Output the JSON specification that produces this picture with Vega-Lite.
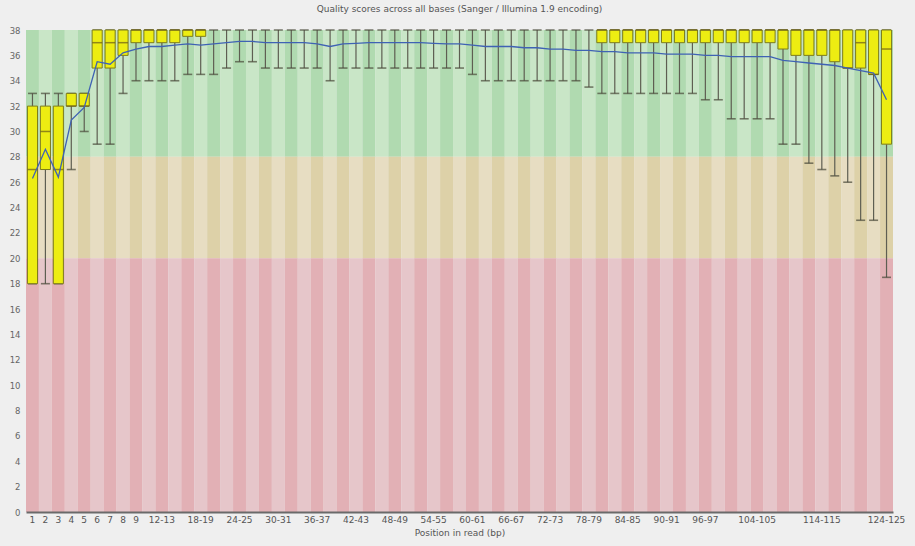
{
  "$schema": "https://vega.github.io/schema/vega-lite/v6.json",
  "width": 867,
  "height": 482,
  "autosize": {"type": "none"},
  "padding": {"left": 26, "top": 30, "right": 22, "bottom": 34},
  "background": "#efefef",
  "config": {
    "view": {"stroke": null},
    "font": "DejaVu Sans",
    "axisY": {"labelOverlap": false, "labelFontSize": 8.5, "labelColor": "#666666", "labelPadding": 6, "ticks": false, "domain": false, "grid": false}
  },
  "title": {
    "text": "Quality scores across all bases (Sanger / Illumina 1.9 encoding)",
    "fontSize": 9,
    "fontWeight": "normal",
    "color": "#555555",
    "offset": 12,
    "anchor": "middle"
  },
  "data": {
    "values": [
      {"idx": 1, "pos": "1", "lo": 18, "q1": 18, "med": 27, "q3": 32, "hi": 33, "mean": 26.3},
      {"idx": 2, "pos": "2", "lo": 18, "q1": 27, "med": 30, "q3": 32, "hi": 33, "mean": 28.6},
      {"idx": 3, "pos": "3", "lo": 18, "q1": 18, "med": 27, "q3": 32, "hi": 33, "mean": 26.4},
      {"idx": 4, "pos": "4", "lo": 27, "q1": 32, "med": 32, "q3": 33, "hi": 33, "mean": 30.9},
      {"idx": 5, "pos": "5", "lo": 30, "q1": 32, "med": 32, "q3": 33, "hi": 33, "mean": 31.9},
      {"idx": 6, "pos": "6", "lo": 29, "q1": 35, "med": 37, "q3": 38, "hi": 38, "mean": 35.5},
      {"idx": 7, "pos": "7", "lo": 29, "q1": 35, "med": 37, "q3": 38, "hi": 38, "mean": 35.3},
      {"idx": 8, "pos": "8", "lo": 33, "q1": 36, "med": 37, "q3": 38, "hi": 38, "mean": 36.2},
      {"idx": 9, "pos": "9", "lo": 34, "q1": 37, "med": 38, "q3": 38, "hi": 38, "mean": 36.5},
      {"idx": 10, "pos": "10-11", "lo": 34, "q1": 37, "med": 38, "q3": 38, "hi": 38, "mean": 36.7},
      {"idx": 11, "pos": "12-13", "lo": 34, "q1": 37, "med": 38, "q3": 38, "hi": 38, "mean": 36.7},
      {"idx": 12, "pos": "14-15", "lo": 34, "q1": 37, "med": 38, "q3": 38, "hi": 38, "mean": 36.8},
      {"idx": 13, "pos": "16-17", "lo": 34.5, "q1": 37.5, "med": 38, "q3": 38, "hi": 38, "mean": 36.9},
      {"idx": 14, "pos": "18-19", "lo": 34.5, "q1": 37.5, "med": 38, "q3": 38, "hi": 38, "mean": 36.8},
      {"idx": 15, "pos": "20-21", "lo": 34.5, "q1": 38, "med": 38, "q3": 38, "hi": 38, "mean": 36.9},
      {"idx": 16, "pos": "22-23", "lo": 35, "q1": 38, "med": 38, "q3": 38, "hi": 38, "mean": 37.0},
      {"idx": 17, "pos": "24-25", "lo": 35.5, "q1": 38, "med": 38, "q3": 38, "hi": 38, "mean": 37.1},
      {"idx": 18, "pos": "26-27", "lo": 35.5, "q1": 38, "med": 38, "q3": 38, "hi": 38, "mean": 37.1},
      {"idx": 19, "pos": "28-29", "lo": 35, "q1": 38, "med": 38, "q3": 38, "hi": 38, "mean": 37.0},
      {"idx": 20, "pos": "30-31", "lo": 35, "q1": 38, "med": 38, "q3": 38, "hi": 38, "mean": 37.0},
      {"idx": 21, "pos": "32-33", "lo": 35, "q1": 38, "med": 38, "q3": 38, "hi": 38, "mean": 37.0},
      {"idx": 22, "pos": "34-35", "lo": 35, "q1": 38, "med": 38, "q3": 38, "hi": 38, "mean": 37.0},
      {"idx": 23, "pos": "36-37", "lo": 35, "q1": 38, "med": 38, "q3": 38, "hi": 38, "mean": 36.9},
      {"idx": 24, "pos": "38-39", "lo": 34, "q1": 38, "med": 38, "q3": 38, "hi": 38, "mean": 36.7},
      {"idx": 25, "pos": "40-41", "lo": 35, "q1": 38, "med": 38, "q3": 38, "hi": 38, "mean": 36.9},
      {"idx": 26, "pos": "42-43", "lo": 35, "q1": 38, "med": 38, "q3": 38, "hi": 38, "mean": 36.95},
      {"idx": 27, "pos": "44-45", "lo": 35, "q1": 38, "med": 38, "q3": 38, "hi": 38, "mean": 37.0},
      {"idx": 28, "pos": "46-47", "lo": 35, "q1": 38, "med": 38, "q3": 38, "hi": 38, "mean": 37.0},
      {"idx": 29, "pos": "48-49", "lo": 35, "q1": 38, "med": 38, "q3": 38, "hi": 38, "mean": 37.0},
      {"idx": 30, "pos": "50-51", "lo": 35, "q1": 38, "med": 38, "q3": 38, "hi": 38, "mean": 37.0},
      {"idx": 31, "pos": "52-53", "lo": 35, "q1": 38, "med": 38, "q3": 38, "hi": 38, "mean": 37.0},
      {"idx": 32, "pos": "54-55", "lo": 35, "q1": 38, "med": 38, "q3": 38, "hi": 38, "mean": 36.95},
      {"idx": 33, "pos": "56-57", "lo": 35, "q1": 38, "med": 38, "q3": 38, "hi": 38, "mean": 36.9},
      {"idx": 34, "pos": "58-59", "lo": 35, "q1": 38, "med": 38, "q3": 38, "hi": 38, "mean": 36.9},
      {"idx": 35, "pos": "60-61", "lo": 34.5, "q1": 38, "med": 38, "q3": 38, "hi": 38, "mean": 36.8},
      {"idx": 36, "pos": "62-63", "lo": 34, "q1": 38, "med": 38, "q3": 38, "hi": 38, "mean": 36.7},
      {"idx": 37, "pos": "64-65", "lo": 34, "q1": 38, "med": 38, "q3": 38, "hi": 38, "mean": 36.7},
      {"idx": 38, "pos": "66-67", "lo": 34, "q1": 38, "med": 38, "q3": 38, "hi": 38, "mean": 36.7},
      {"idx": 39, "pos": "68-69", "lo": 34, "q1": 38, "med": 38, "q3": 38, "hi": 38, "mean": 36.6},
      {"idx": 40, "pos": "70-71", "lo": 34, "q1": 38, "med": 38, "q3": 38, "hi": 38, "mean": 36.6},
      {"idx": 41, "pos": "72-73", "lo": 34, "q1": 38, "med": 38, "q3": 38, "hi": 38, "mean": 36.5},
      {"idx": 42, "pos": "74-75", "lo": 34, "q1": 38, "med": 38, "q3": 38, "hi": 38, "mean": 36.5},
      {"idx": 43, "pos": "76-77", "lo": 34, "q1": 38, "med": 38, "q3": 38, "hi": 38, "mean": 36.4},
      {"idx": 44, "pos": "78-79", "lo": 33.5, "q1": 38, "med": 38, "q3": 38, "hi": 38, "mean": 36.4},
      {"idx": 45, "pos": "80-81", "lo": 33, "q1": 37, "med": 38, "q3": 38, "hi": 38, "mean": 36.3},
      {"idx": 46, "pos": "82-83", "lo": 33, "q1": 37, "med": 38, "q3": 38, "hi": 38, "mean": 36.3},
      {"idx": 47, "pos": "84-85", "lo": 33, "q1": 37, "med": 38, "q3": 38, "hi": 38, "mean": 36.2},
      {"idx": 48, "pos": "86-87", "lo": 33, "q1": 37, "med": 38, "q3": 38, "hi": 38, "mean": 36.2},
      {"idx": 49, "pos": "88-89", "lo": 33, "q1": 37, "med": 38, "q3": 38, "hi": 38, "mean": 36.2},
      {"idx": 50, "pos": "90-91", "lo": 33, "q1": 37, "med": 38, "q3": 38, "hi": 38, "mean": 36.1},
      {"idx": 51, "pos": "92-93", "lo": 33, "q1": 37, "med": 38, "q3": 38, "hi": 38, "mean": 36.1},
      {"idx": 52, "pos": "94-95", "lo": 33, "q1": 37, "med": 38, "q3": 38, "hi": 38, "mean": 36.1},
      {"idx": 53, "pos": "96-97", "lo": 32.5, "q1": 37, "med": 38, "q3": 38, "hi": 38, "mean": 36.0},
      {"idx": 54, "pos": "98-99", "lo": 32.5, "q1": 37, "med": 38, "q3": 38, "hi": 38, "mean": 36.0},
      {"idx": 55, "pos": "100-101", "lo": 31, "q1": 37, "med": 38, "q3": 38, "hi": 38, "mean": 35.9},
      {"idx": 56, "pos": "102-103", "lo": 31, "q1": 37, "med": 38, "q3": 38, "hi": 38, "mean": 35.9},
      {"idx": 57, "pos": "104-105", "lo": 31, "q1": 37, "med": 38, "q3": 38, "hi": 38, "mean": 35.9},
      {"idx": 58, "pos": "106-107", "lo": 31, "q1": 37, "med": 38, "q3": 38, "hi": 38, "mean": 35.9},
      {"idx": 59, "pos": "108-109", "lo": 29, "q1": 36.5, "med": 38, "q3": 38, "hi": 38, "mean": 35.6},
      {"idx": 60, "pos": "110-111", "lo": 29, "q1": 36, "med": 38, "q3": 38, "hi": 38, "mean": 35.5},
      {"idx": 61, "pos": "112-113", "lo": 27.5, "q1": 36, "med": 38, "q3": 38, "hi": 38, "mean": 35.4},
      {"idx": 62, "pos": "114-115", "lo": 27, "q1": 36, "med": 38, "q3": 38, "hi": 38, "mean": 35.3},
      {"idx": 63, "pos": "116-117", "lo": 26.5, "q1": 35.5, "med": 38, "q3": 38, "hi": 38, "mean": 35.2},
      {"idx": 64, "pos": "118-119", "lo": 26, "q1": 35, "med": 35, "q3": 38, "hi": 38, "mean": 35.0},
      {"idx": 65, "pos": "120-121", "lo": 23, "q1": 35, "med": 37, "q3": 38, "hi": 38, "mean": 34.8},
      {"idx": 66, "pos": "122-123", "lo": 23, "q1": 34.5, "med": 34.5, "q3": 38, "hi": 38, "mean": 34.6},
      {"idx": 67, "pos": "124-125", "lo": 18.5, "q1": 29, "med": 36.5, "q3": 38, "hi": 38, "mean": 32.5}
    ]
  },
  "encoding": {
    "x": {
      "field": "pos",
      "type": "ordinal",
      "sort": {"field": "idx"},
      "scale": {"paddingInner": 0, "paddingOuter": 0},
      "axis": {
        "title": "Position in read (bp)",
        "values": ["1", "2", "3", "4", "5", "6", "7", "8", "9", "12-13", "18-19", "24-25", "30-31", "36-37", "42-43", "48-49", "54-55", "60-61", "66-67", "72-73", "78-79", "84-85", "90-91", "96-97", "104-105", "114-115", "124-125"],
        "labelAngle": 0,
        "labelFontSize": 9,
        "labelColor": "#555555",
        "labelPadding": 3,
        "labelOverlap": false,
        "ticks": false,
        "domain": true,
        "domainColor": "#6a6a6a",
        "domainWidth": 2,
        "titleFontSize": 9,
        "titleFontWeight": "normal",
        "titleColor": "#555555",
        "titlePadding": 4
      }
    }
  },
  "layer": [
    {
      "mark": {"type": "rect"},
      "encoding": {
        "y": {"datum": 28, "type": "quantitative", "scale": {"domain": [0, 38], "nice": false}, "axis": {
          "title": null,
          "values": [0, 2, 4, 6, 8, 10, 12, 14, 16, 18, 20, 22, 24, 26, 28, 30, 32, 34, 36, 38],
          "tickCount": 40,
          "labelOverlap": false
        }},
        "y2": {"datum": 38},
        "fill": {"condition": {"test": "datum.idx % 2 === 1", "value": "#b0dab0"}, "value": "#c9e6c7"}
      }
    },
    {
      "mark": {"type": "rect"},
      "encoding": {
        "y": {"datum": 20, "type": "quantitative"},
        "y2": {"datum": 28},
        "fill": {"condition": {"test": "datum.idx % 2 === 1", "value": "#ddd1a8"}, "value": "#e7ddc2"}
      }
    },
    {
      "mark": {"type": "rect"},
      "encoding": {
        "y": {"datum": 0, "type": "quantitative"},
        "y2": {"datum": 20},
        "fill": {"condition": {"test": "datum.idx % 2 === 1", "value": "#e2b0b5"}, "value": "#e6c6ca"}
      }
    },
    {
      "mark": {"type": "rule", "color": "#5e5e52", "strokeWidth": 1.2},
      "encoding": {
        "x": {"field": "pos", "type": "ordinal", "sort": {"field": "idx"}, "bandPosition": 0.5},
        "y": {"field": "lo", "type": "quantitative"},
        "y2": {"field": "q1"}
      }
    },
    {
      "mark": {"type": "rule", "color": "#5e5e52", "strokeWidth": 1.2},
      "encoding": {
        "x": {"field": "pos", "type": "ordinal", "sort": {"field": "idx"}, "bandPosition": 0.5},
        "y": {"field": "q3", "type": "quantitative"},
        "y2": {"field": "hi"}
      }
    },
    {
      "mark": {"type": "tick", "color": "#4a4a3a", "size": 9, "thickness": 1.6, "orient": "horizontal"},
      "encoding": {
        "x": {"field": "pos", "type": "ordinal", "sort": {"field": "idx"}, "bandPosition": 0.5},
        "y": {"field": "lo", "type": "quantitative"}
      }
    },
    {
      "mark": {"type": "tick", "color": "#4a4a3a", "size": 9, "thickness": 1.6, "orient": "horizontal"},
      "encoding": {
        "x": {"field": "pos", "type": "ordinal", "sort": {"field": "idx"}, "bandPosition": 0.5},
        "y": {"field": "hi", "type": "quantitative"}
      }
    },
    {
      "transform": [{"filter": "datum.q3 > datum.q1"}],
      "mark": {"type": "bar", "width": {"band": 0.78}, "fill": "#eded12", "stroke": "#7c7c1c", "strokeWidth": 1},
      "encoding": {
        "y": {"field": "q1", "type": "quantitative"},
        "y2": {"field": "q3"}
      }
    },
    {
      "transform": [{"filter": "datum.q3 > datum.q1"}],
      "mark": {"type": "tick", "color": "#6a5a1a", "size": 10, "thickness": 1.5, "orient": "horizontal"},
      "encoding": {
        "x": {"field": "pos", "type": "ordinal", "sort": {"field": "idx"}, "bandPosition": 0.5},
        "y": {"field": "med", "type": "quantitative"}
      }
    },
    {
      "mark": {"type": "line", "color": "#3f62b4", "strokeWidth": 1.3},
      "encoding": {
        "x": {"field": "pos", "type": "ordinal", "sort": {"field": "idx"}, "bandPosition": 0.5},
        "y": {"field": "mean", "type": "quantitative"}
      }
    }
  ]
}
